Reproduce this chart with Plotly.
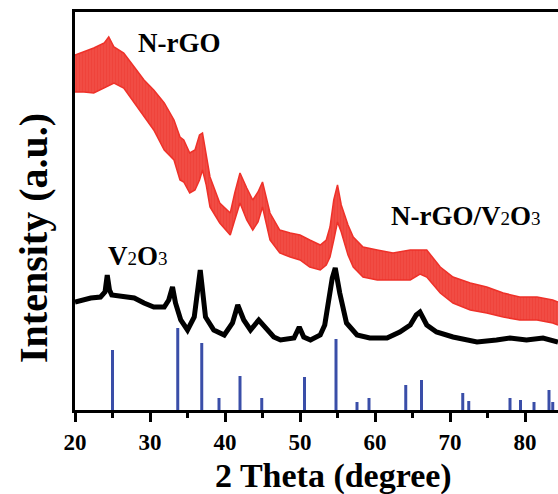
import plotly.graph_objects as go

# ---- data -------------------------------------------------------------
# N-rGO/V2O3 (red): 2-theta and the upper / lower edges of the noisy trace
red_theta = [20.0, 21.2, 22.5, 23.9, 24.5, 25.2, 26.5, 27.9, 29.2, 30.5, 31.9,
             33.2, 34.0, 34.5, 35.3, 36.0, 36.6, 37.0, 37.5, 38.0, 39.3, 40.7,
             41.3, 42.0, 42.9, 43.7, 44.4, 45.0, 46.0, 47.3, 48.7, 50.0, 51.3,
             52.7, 53.5, 54.0, 54.5, 55.0, 55.5, 56.4, 57.1, 58.4, 60.3, 62.4,
             64.7, 66.0, 66.9, 68.7, 70.4, 72.7, 74.9, 77.1, 79.3, 81.6, 83.7,
             84.4]
red_upper = [355, 358, 362, 367, 373, 363, 357, 343, 330, 320, 307,
             290, 273, 270, 257, 260, 275, 277, 255, 233, 207, 197,
             217, 237, 222, 210, 218, 228, 197, 180, 177, 175, 170,
             165, 170, 183, 210, 225, 205, 185, 173, 163, 160, 157,
             160, 160, 160, 143, 133, 127, 123, 117, 113, 113, 110,
             108]
red_lower = [318, 318, 317, 322, 324, 327, 322, 307, 293, 280, 260,
             250, 230, 228, 217, 220, 230, 240, 225, 203, 187, 175,
             190, 207, 190, 180, 188, 203, 170, 157, 153, 150, 143,
             140, 145, 153, 170, 188, 178, 155, 143, 133, 130, 130,
             130, 136, 133, 117, 107, 100, 97, 93, 90, 90, 87,
             85]

# V2O3 (black)
blk_theta = [20.0, 21.0, 22.1, 23.4, 24.0, 24.3, 24.6, 24.9, 26.5, 27.9, 29.2,
             30.5, 31.9, 32.5, 33.0, 33.4, 34.1, 35.0, 35.9, 36.3, 36.7, 37.0,
             37.4, 38.5, 39.9, 41.0, 41.7, 42.5, 43.4, 44.5, 45.6, 46.5, 47.4,
             49.2, 49.9, 50.5, 51.4, 52.7, 53.3, 53.8, 54.3, 54.7, 55.3, 56.2,
             57.6, 59.3, 61.6, 63.3, 64.7, 65.5, 66.0, 66.9, 68.2, 70.4, 73.6,
             76.2, 78.0, 80.2, 82.4, 84.4]
blk_int = [108, 110, 112, 113, 118, 135, 120, 115, 113, 112, 107,
           103, 103, 110, 123, 107, 90, 80, 93, 115, 140, 120,
           93, 80, 75, 87, 105, 90, 80, 90, 80, 73, 70,
           72, 83, 73, 70, 75, 85, 107, 132, 142, 117, 87,
           75, 72, 72, 78, 85, 95, 98, 85, 78, 73, 68,
           70, 72, 70, 72, 68]

# reference pattern (blue sticks)
ref_theta = [25.0, 33.7, 36.9, 39.2, 42.0, 44.9, 50.6, 54.8, 57.6, 59.2,
             64.1, 66.2, 71.7, 72.5, 78.0, 79.4, 81.2, 83.2, 83.7]
ref_int = [60, 82, 67, 12, 34, 12, 33, 71, 8, 12,
           25, 30, 17, 9, 12, 10, 8, 20, 8]

x_ticks = [20, 30, 40, 50, 60, 70, 80]
x_minor = [25, 35, 45, 55, 65, 75, 85]

# ---- styling ----------------------------------------------------------
RED = "#ee3129"
BLUE = "#3a4ea8"
SERIF = "Liberation Serif"

fig = go.Figure()

fig.add_trace(go.Bar(x=ref_theta, y=ref_int, width=0.4,
                     marker=dict(color=BLUE, line=dict(width=0)),
                     showlegend=False))

fig.add_trace(go.Scatter(x=blk_theta, y=blk_int, mode="lines",
                         line=dict(color="black", width=5),
                         showlegend=False))

# noisy red trace drawn as a band between its lower and upper edges,
# lightly hatched to give it a spiky texture
fig.add_trace(go.Scatter(x=red_theta, y=red_lower, mode="lines",
                         line=dict(color=RED, width=1.5),
                         showlegend=False))
fig.add_trace(go.Scatter(x=red_theta, y=red_upper, mode="lines",
                         line=dict(color=RED, width=1.5),
                         fill="tonexty",
                         fillpattern=dict(shape="|", fgcolor=RED,
                                          bgcolor="#f1554d", size=3,
                                          solidity=0.7),
                         showlegend=False))

sub = '<span style="font-size:19px;font-weight:normal">{}</span>'
label_font = dict(family=SERIF, size=27, color="black", weight="bold")

annotations = [
    dict(x=33.9, y=367, text="N-rGO"),
    dict(x=72.1, y=194, text="N-rGO/V" + sub.format("2") + "O" + sub.format("3")),
    dict(x=28.4, y=154, text="V" + sub.format("2") + "O" + sub.format("3")),
]
for a in annotations:
    a.update(xref="x", yref="y", showarrow=False, font=label_font,
             xanchor="center", yanchor="middle")

# axis titles
annotations.append(dict(text="2 Theta (degree)", xref="paper", yref="paper",
                        x=(333 - 75) / 483, y=-(476 - 410) / 398,
                        xanchor="center", yanchor="middle", showarrow=False,
                        font=dict(family=SERIF, size=34, color="black",
                                  weight="bold")))
annotations.append(dict(text="Intensity (a.u.)", xref="paper", yref="paper",
                        x=-(75 - 33) / 483, y=(410 - 238) / 398,
                        xanchor="center", yanchor="middle", showarrow=False,
                        textangle=-90,
                        font=dict(family=SERIF, size=40, color="black",
                                  weight="bold")))

fig.update_layout(
    width=558, height=494,
    margin=dict(l=75, r=0, t=12, b=84),
    paper_bgcolor="white", plot_bgcolor="white",
    barmode="overlay",
    annotations=annotations,
    xaxis=dict(range=[20, 20 + 483 / 7.5], showline=True, linecolor="black",
               linewidth=3, mirror=True, showgrid=False, zeroline=False,
               tickvals=x_ticks, ticks="outside", ticklen=9, tickwidth=2.5,
               tickcolor="black",
               minor=dict(tickvals=x_minor, ticks="outside", ticklen=5,
                          tickwidth=2.5, tickcolor="black"),
               tickfont=dict(family=SERIF, size=23, color="black",
                             weight="bold")),
    yaxis=dict(range=[0, 398], showline=True, linecolor="black", linewidth=3,
               mirror=False, showgrid=False, zeroline=False,
               showticklabels=False, ticks=""),
)

fig.write_html("out.html")
